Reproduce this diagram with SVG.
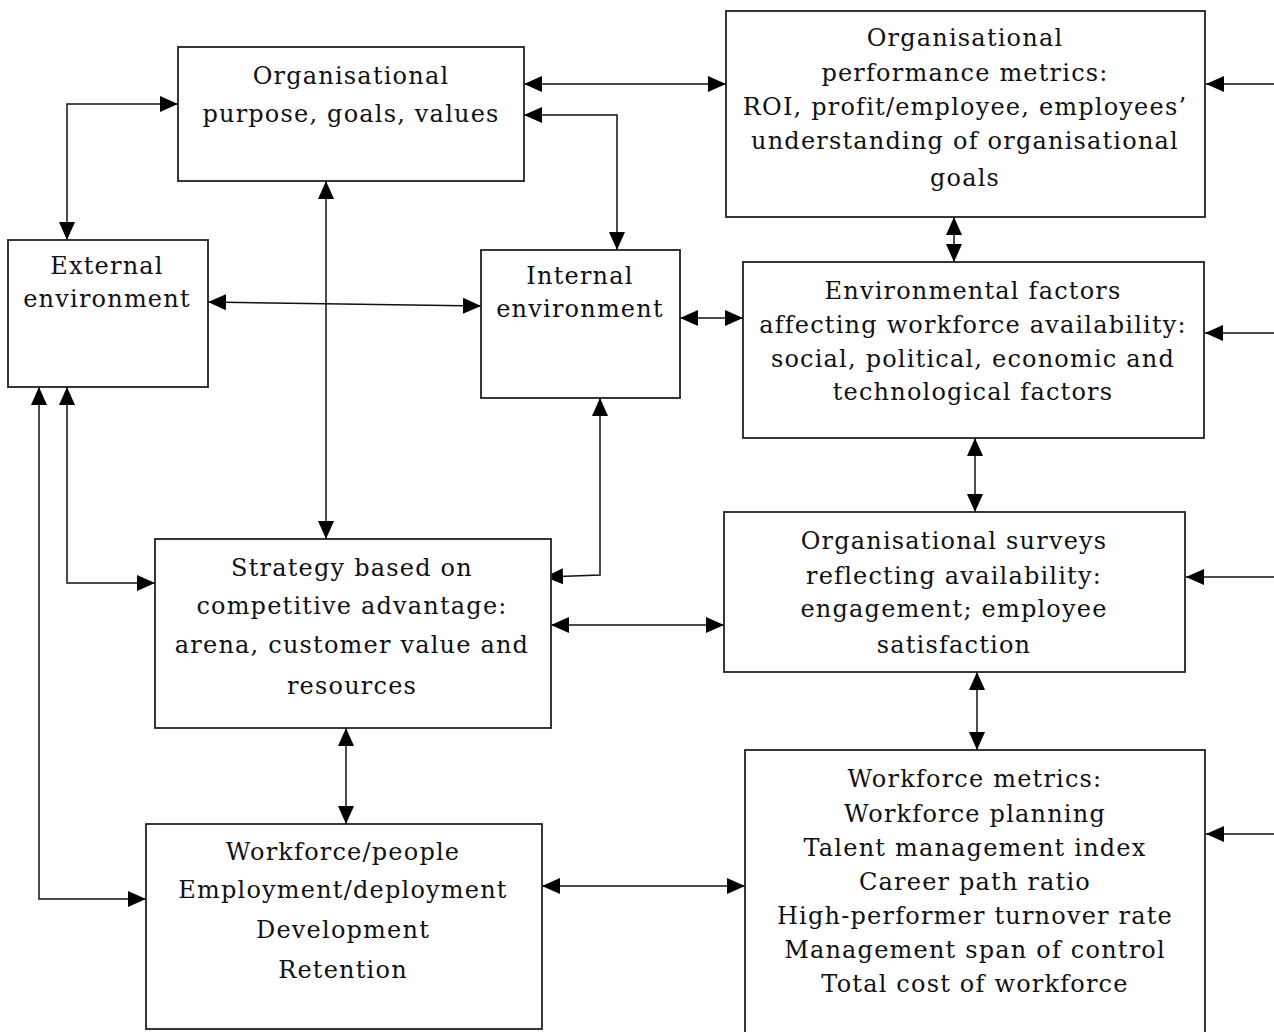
<svg xmlns="http://www.w3.org/2000/svg" width="1274" height="1032" viewBox="0 0 1274 1032">
<defs>
<marker id="ah" viewBox="0 0 18 16" refX="18" refY="8" markerWidth="18" markerHeight="16" markerUnits="userSpaceOnUse" orient="auto-start-reverse">
<path d="M0,0 L18,8 L0,16 z" fill="#000"/>
</marker>
</defs>
<style>
.box{fill:#fff;stroke:#222;stroke-width:1.8}
.t{font-family:"DejaVu Serif","Liberation Serif",serif;font-size:24px;letter-spacing:1.2px;fill:#111;text-anchor:middle}
.c{fill:none;stroke:#111;stroke-width:1.5}
.b{marker-start:url(#ah);marker-end:url(#ah)}
.e{marker-end:url(#ah)}
</style>
<rect width="1274" height="1032" fill="#fff"/>
<g id="connectors">
<path class="c b" d="M524,84 H726"/>
<path class="c e" d="M1274,84 H1206"/>
<path class="c e" d="M1274,333 H1205"/>
<path class="c e" d="M1274,577 H1186"/>
<path class="c e" d="M1274,834 H1206"/>
<path class="c b" d="M524,115 H617 V250"/>
<path class="c b" d="M67,240 V104 H178"/>
<path class="c b" d="M326,181 V539"/>
<path class="c b" d="M208,302 L481,306"/>
<path class="c b" d="M680,318 H743"/>
<path class="c b" d="M600,398 V575 L545,577"/>
<path class="c b" d="M954,217 V262"/>
<path class="c b" d="M975,438 V512"/>
<path class="c b" d="M977,672 V750"/>
<path class="c b" d="M551,625 H724"/>
<path class="c b" d="M346,728 V824"/>
<path class="c b" d="M542,886 H745"/>
<path class="c b" d="M67,387 V583 H155"/>
<path class="c b" d="M39,387 V899 H146"/>
</g>
<g id="n-purpose">
<rect class="box" x="178" y="47" width="346" height="134"/>
<text class="t" x="351" y="84">Organisational</text>
<text class="t" x="351" y="122">purpose, goals, values</text>
</g>
<g id="n-external">
<rect class="box" x="8" y="240" width="200" height="147"/>
<text class="t" x="107" y="274">External</text>
<text class="t" x="107" y="307">environment</text>
</g>
<g id="n-internal">
<rect class="box" x="481" y="250" width="199" height="148"/>
<text class="t" x="580" y="284">Internal</text>
<text class="t" x="580" y="317">environment</text>
</g>
<g id="n-perf">
<rect class="box" x="726" y="11" width="479" height="206"/>
<text class="t" x="965" y="46">Organisational</text>
<text class="t" x="965" y="81">performance metrics:</text>
<text class="t" x="965" y="115">ROI, profit/employee, employees’</text>
<text class="t" x="965" y="149">understanding of organisational</text>
<text class="t" x="965" y="186">goals</text>
</g>
<g id="n-envfactors">
<rect class="box" x="743" y="262" width="461" height="176"/>
<text class="t" x="973" y="299">Environmental factors</text>
<text class="t" x="973" y="333">affecting workforce availability:</text>
<text class="t" x="973" y="367">social, political, economic and</text>
<text class="t" x="973" y="400">technological factors</text>
</g>
<g id="n-strategy">
<rect class="box" x="155" y="539" width="396" height="189"/>
<text class="t" x="352" y="576">Strategy based on</text>
<text class="t" x="352" y="614">competitive advantage:</text>
<text class="t" x="352" y="653">arena, customer value and</text>
<text class="t" x="352" y="694">resources</text>
</g>
<g id="n-surveys">
<rect class="box" x="724" y="512" width="461" height="160"/>
<text class="t" x="954" y="549">Organisational surveys</text>
<text class="t" x="954" y="584">reflecting availability:</text>
<text class="t" x="954" y="617">engagement; employee</text>
<text class="t" x="954" y="653">satisfaction</text>
</g>
<g id="n-workforce">
<rect class="box" x="146" y="824" width="396" height="205"/>
<text class="t" x="343" y="860">Workforce/people</text>
<text class="t" x="343" y="898">Employment/deployment</text>
<text class="t" x="343" y="938">Development</text>
<text class="t" x="343" y="978">Retention</text>
</g>
<g id="n-wmetrics">
<rect class="box" x="745" y="750" width="460" height="290"/>
<text class="t" x="975" y="787">Workforce metrics:</text>
<text class="t" x="975" y="822">Workforce planning</text>
<text class="t" x="975" y="856">Talent management index</text>
<text class="t" x="975" y="890">Career path ratio</text>
<text class="t" x="975" y="924">High-performer turnover rate</text>
<text class="t" x="975" y="958">Management span of control</text>
<text class="t" x="975" y="992">Total cost of workforce</text>
</g>
</svg>
